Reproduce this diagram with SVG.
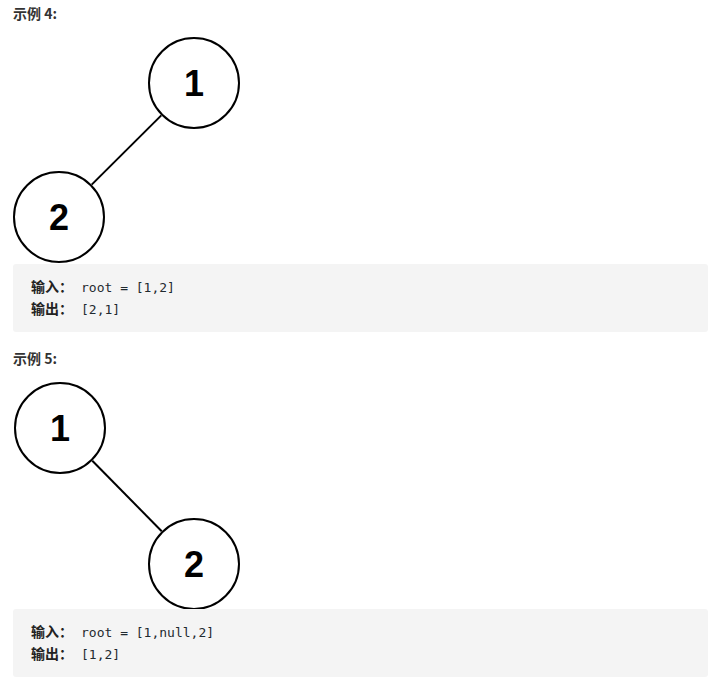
<svg xmlns="http://www.w3.org/2000/svg" width="708" height="696" viewBox="0 0 708 696">
  <style>
    .heading { font-family: "Noto Sans CJK SC", "Liberation Sans", sans-serif; font-size: 14px; font-weight: bold; fill: #333; }
    .node circle { fill: #fff; stroke: #000; stroke-width: 2; }
    .node text { font-family: "Liberation Sans", Arial, sans-serif; font-size: 36px; font-weight: bold; fill: #000; text-anchor: middle; }
    .edge { stroke: #000; stroke-width: 2; }
    .codebox { fill: #f4f4f4; }
    .label { font-family: "Noto Sans CJK SC", sans-serif; font-size: 14px; font-weight: bold; fill: #222; }
    .code { font-family: "DejaVu Sans Mono", "Liberation Mono", monospace; font-size: 13px; fill: #1f2a30; }
  </style>
  <rect width="708" height="696" fill="#fff"/>

  <!-- Example 4 -->
  <text class="heading" x="13" y="19">示例 4:</text>
  <g id="edges-4">
    <line class="edge" x1="161.3" y1="115.4" x2="91.7" y2="184.6"/>
  </g>
  <g id="ex4-node-1" class="node">
    <circle cx="194" cy="83" r="45"/>
    <text x="194" y="96">1</text>
  </g>
  <g id="ex4-node-2" class="node">
    <circle cx="59" cy="217" r="45"/>
    <text x="59" y="230">2</text>
  </g>
  <rect class="codebox" x="13" y="264" width="695" height="68" rx="3"/>
  <text class="label" x="31" y="292">输入：</text>
  <text class="code" x="81" y="292">root = [1,2]</text>
  <text class="label" x="31" y="314">输出：</text>
  <text class="code" x="81" y="314">[2,1]</text>

  <!-- Example 5 -->
  <text class="heading" x="13" y="364">示例 5:</text>
  <g id="edges-5">
    <line class="edge" x1="92.3" y1="460.8" x2="161.7" y2="531.2"/>
  </g>
  <g id="ex5-node-1" class="node">
    <circle cx="60" cy="428" r="45"/>
    <text x="60" y="441">1</text>
  </g>
  <g id="ex5-node-2" class="node">
    <circle cx="194" cy="564" r="45"/>
    <text x="194" y="577">2</text>
  </g>
  <rect class="codebox" x="13" y="609" width="695" height="68" rx="3"/>
  <text class="label" x="31" y="637">输入：</text>
  <text class="code" x="81" y="637">root = [1,null,2]</text>
  <text class="label" x="31" y="659">输出：</text>
  <text class="code" x="81" y="659">[1,2]</text>
</svg>
